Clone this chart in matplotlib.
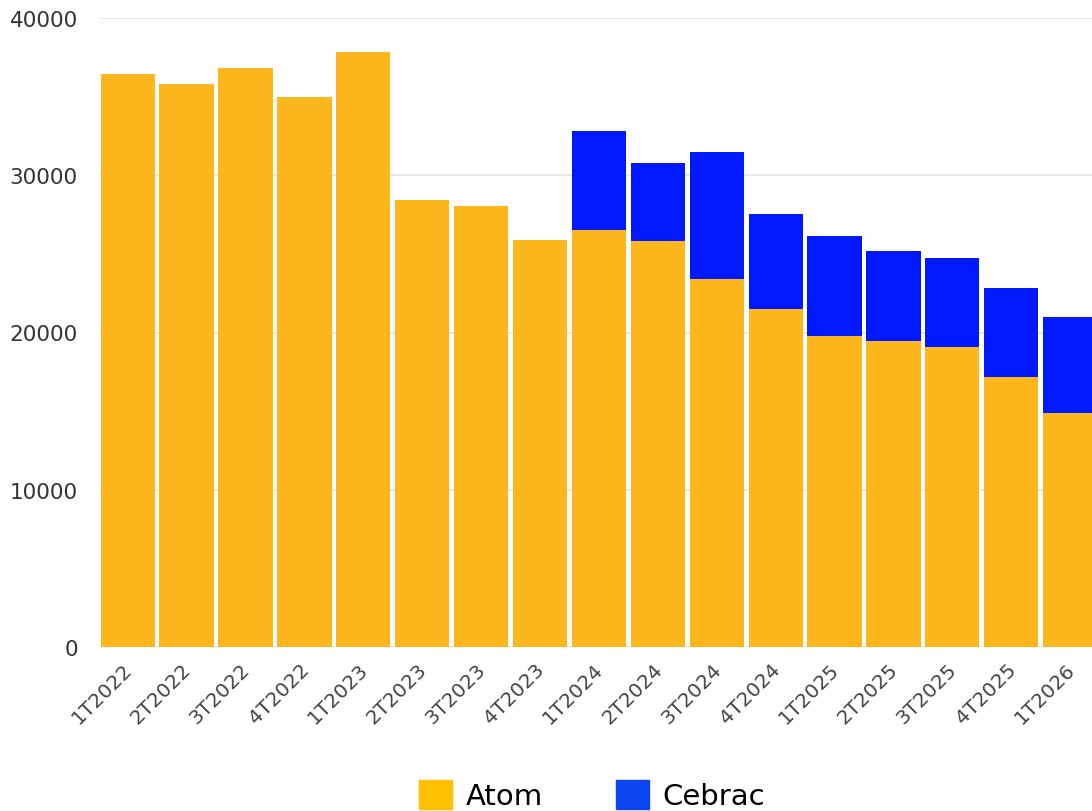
import matplotlib.pyplot as plt
from matplotlib.patches import Patch
from matplotlib.transforms import ScaledTranslation

quarters = ['1T2022', '2T2022', '3T2022', '4T2022', '1T2023', '2T2023', '3T2023',
            '4T2023', '1T2024', '2T2024', '3T2024', '4T2024', '1T2025', '2T2025',
            '3T2025', '4T2025', '1T2026']
atom = [36450, 35800, 36850, 35000, 37850, 28450, 28050, 25900, 26500, 25850,
        23400, 21500, 19750, 19450, 19100, 17150, 14900]
cebrac = [0, 0, 0, 0, 0, 0, 0, 0, 6300, 4950, 8100, 6050, 6400, 5750, 5650, 5700, 6100]

atom_color = '#FDB71C'
cebrac_color = '#0019FF'

fig = plt.figure(figsize=(10.92, 8.12), dpi=100)
ax = fig.add_axes([100 / 1092, 164 / 812, 992 / 1092, 629 / 812])

x = range(len(quarters))
ax.bar(x, atom, width=0.92, color=atom_color, zorder=2)
ax.bar(x, cebrac, width=0.92, bottom=atom, color=cebrac_color, zorder=2)

ax.set_xlim(-0.47, 16.37)
ax.set_ylim(0, 40000)
ax.set_yticks([0, 10000, 20000, 30000, 40000])
ax.grid(axis='y', color='#e4e4e4', linewidth=1.2, zorder=0)
for s in ax.spines.values():
    s.set_visible(False)
ax.tick_params(axis='both', length=0)
ax.tick_params(axis='y', pad=16, labelsize=15.5, labelcolor='#333333')
ax.set_xticks(list(x))
ax.set_xticklabels(quarters, rotation=45, ha='right', va='top',
                   rotation_mode='anchor', fontsize=14.5, color='#444444')
ax.tick_params(axis='x', pad=9)
shift = ScaledTranslation(-5 / 100, 0, fig.dpi_scale_trans)
for lab in ax.get_xticklabels():
    lab.set_transform(lab.get_transform() + shift)

handles = [Patch(color='#FFC000', label='Atom'), Patch(color='#0A45EE', label='Cebrac')]
fig.legend(handles=handles, loc='center', bbox_to_anchor=(0.542, 0.02), ncol=2,
           frameon=False, fontsize=21, handlelength=1.15, handleheight=1.15,
           handletextpad=0.45, columnspacing=2.5)

fig.savefig('out.png', dpi=100)
